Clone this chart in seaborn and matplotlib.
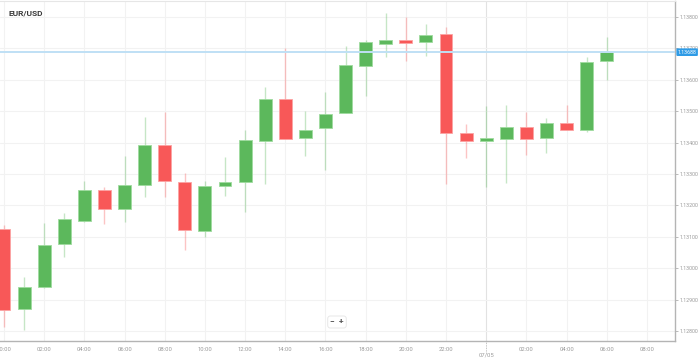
import numpy as np
import pandas as pd
import seaborn as sns
import matplotlib.pyplot as plt

# hourly EUR/USD candles, hour 0 = 00:00 of 06/05, hour 24 = 07/05 00:00
hours = list(range(31))
opens = [1.13125, 1.12870, 1.12940, 1.13077, 1.13150, 1.13249, 1.13189, 1.13265,
         1.13392, 1.13274, 1.13118, 1.13262, 1.13274, 1.13405, 1.13539, 1.13415,
         1.13446, 1.13494, 1.13644, 1.13714, 1.13727, 1.13720, 1.13746, 1.13431,
         1.13405, 1.13411, 1.13450, 1.13415, 1.13462, 1.13440, 1.13660]
highs = [1.13138, 1.12972, 1.13144, 1.13176, 1.13278, 1.13259, 1.13357, 1.13482,
         1.13497, 1.13303, 1.13278, 1.13354, 1.13440, 1.13577, 1.13701, 1.13501,
         1.13561, 1.13708, 1.13727, 1.13813, 1.13800, 1.13778, 1.13768, 1.13459,
         1.13517, 1.13520, 1.13497, 1.13478, 1.13520, 1.13673, 1.13736]
lows = [1.12813, 1.12803, 1.12937, 1.13036, 1.13148, 1.13141, 1.13147, 1.13227,
        1.13227, 1.13058, 1.13099, 1.13230, 1.13179, 1.13268, 1.13411, 1.13357,
        1.13313, 1.13494, 1.13548, 1.13673, 1.13660, 1.13676, 1.13268, 1.13350,
        1.13259, 1.13271, 1.13360, 1.13367, 1.13440, 1.13434, 1.13599]
closes = [1.12867, 1.12940, 1.13074, 1.13157, 1.13249, 1.13189, 1.13265, 1.13392,
          1.13278, 1.13122, 1.13262, 1.13274, 1.13408, 1.13539, 1.13411, 1.13440,
          1.13491, 1.13647, 1.13720, 1.13727, 1.13717, 1.13743, 1.13431, 1.13405,
          1.13415, 1.13450, 1.13411, 1.13462, 1.13440, 1.13657, 1.13688]
last_price = 1.13688

tick_hours = list(range(0, 34, 2))
tick_labels = ["00:00", "02:00", "04:00", "06:00", "08:00", "10:00", "12:00",
               "14:00", "16:00", "18:00", "20:00", "22:00", "", "02:00",
               "04:00", "06:00", "08:00"]
price_ticks = [1.128, 1.129, 1.130, 1.131, 1.132, 1.133, 1.134, 1.135, 1.136,
               1.137, 1.138]

df = pd.DataFrame({"hour": hours, "open": opens, "high": highs,
                   "low": lows, "close": closes})
df["up"] = df["close"] >= df["open"]

sns.set_style("white")
plt.rcParams["font.family"] = ["Roboto", "DejaVu Sans"]

GREEN = "#5cb85c"
RED = "#f85858"
GRID = "#f2f2f2"
TXT = "#9a9a9a"

fig = plt.figure(figsize=(6.99, 3.6), dpi=100)
ax = fig.add_axes([0, 1 - 341 / 360, 675 / 699, 340 / 360])

# grid
for h in tick_hours:
    ax.axvline(h, color="#e2e2e2" if h == 24 else GRID, lw=0.8, zorder=0)
for p in price_ticks:
    ax.axhline(p, color=GRID, lw=0.8, zorder=0)

# candles
for up, color, edge in [(True, GREEN, "#9fdb9f"), (False, RED, "#fca3a3")]:
    d = df[df["up"] == up]
    ax.vlines(d["hour"], d["low"], d["high"], color=color, alpha=0.35,
              lw=1.0, zorder=2)
    body_lo = np.minimum(d["open"], d["close"])
    body_h = np.maximum(np.abs(d["close"] - d["open"]), 0.00008)
    ax.bar(d["hour"], body_h, bottom=body_lo, width=0.64, color=color,
           edgecolor=edge, linewidth=0.6, zorder=3)

# last price line
ax.axhline(last_price, color="#bfe0f5", lw=1.4, zorder=4)

ax.set_xlim(-0.2, 33.4)
ax.set_ylim(1.12768, 1.13851)

ax.set_xticks(tick_hours)
ax.set_xticklabels(tick_labels)
ax.set_yticks(price_ticks)
ax.set_yticklabels([f"{p:.5f}" for p in price_ticks])
ax.yaxis.tick_right()
ax.tick_params(axis="x", labelsize=4.2, labelcolor=TXT, color="#b0b0b0",
               length=2, width=0.6, pad=2)
ax.tick_params(axis="y", labelsize=3.8, labelcolor=TXT, color="#b0b0b0",
               length=2, width=0.6, pad=1.2)

ax.spines["left"].set_visible(False)
ax.spines["top"].set_color("#e6e6e6")
ax.spines["top"].set_linewidth(0.8)
ax.spines["right"].set_color("#b4b4b4")
ax.spines["bottom"].set_color("#b4b4b4")
ax.spines["right"].set_linewidth(1.0)
ax.spines["bottom"].set_linewidth(1.0)

# midnight marker on the time axis
ax.plot([24, 24], [0, -0.035], transform=ax.get_xaxis_transform(),
        color="#b0b0b0", lw=0.6, ls=(0, (1, 1)), clip_on=False)
ax.text(24, -0.035, "07/05", transform=ax.get_xaxis_transform(),
        ha="center", va="top", fontsize=4.2, color=TXT)

# last price tag
ax.text(1.004, last_price, f"{last_price:.5f}",
        transform=ax.get_yaxis_transform(), ha="left", va="center",
        fontsize=3.8, color="white", zorder=6,
        bbox=dict(boxstyle="round,pad=0.25,rounding_size=0.2",
                  fc="#2e9be6", ec="none"))

ax.text(0.013, 0.965, "EUR/USD", transform=ax.transAxes, fontsize=6,
        fontweight="bold", color="#3a3a3a", va="center", ha="left")

# zoom control
fig.text(337 / 699, 1 - 322 / 360, "\u2212  +", ha="center", va="center",
         fontsize=6, fontweight="bold", color="#555555",
         bbox=dict(boxstyle="round,pad=0.3", fc="white", ec="#e4e4e4", lw=0.6))

fig.savefig("out.png", dpi=100)
